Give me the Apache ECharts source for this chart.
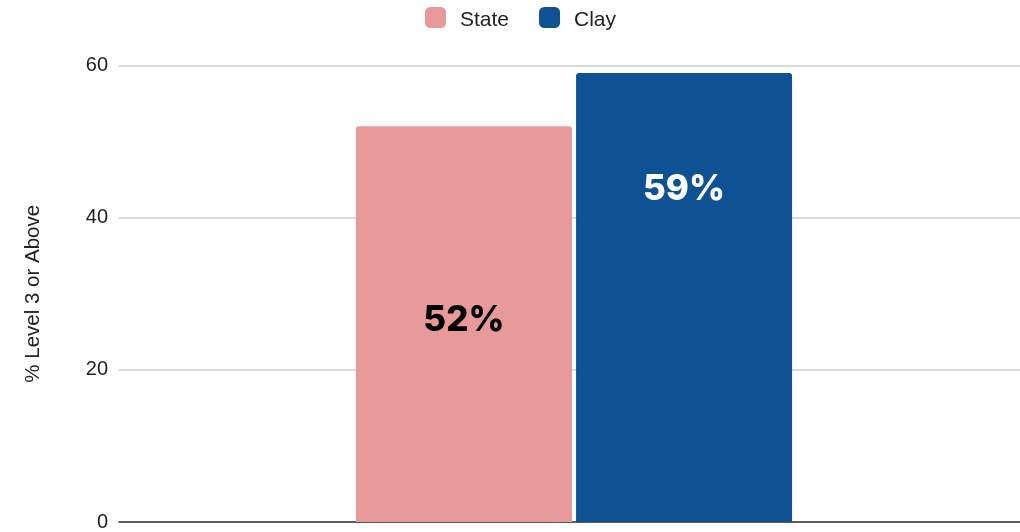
<!DOCTYPE html>
<html>
<head>
<meta charset="utf-8">
<script src="https://cdn.jsdelivr.net/npm/echarts@6/dist/echarts.min.js"></script>
<style>html,body{margin:0;padding:0;background:#fff;overflow:hidden}#c{width:1029px;height:532px}</style>
</head>
<body>
<div id="c"></div>
<script>
const categories = [''];
const seriesNames = ['State', 'Clay'];
const stateValues = [52];
const clayValues = [59];
const yTicks = [0, 20, 40, 60];
const colors = ['#e8999a', '#0e5294'];

const chart = echarts.init(document.getElementById('c'));
chart.setOption({
  animation: false,
  backgroundColor: '#ffffff',
  legend: {
    top: 2, left: 420,
    itemWidth: 21, itemHeight: 21, itemGap: 30,
    icon: 'roundRect',
    formatter: '{t|{name}}',
    textStyle: { fontFamily: 'Liberation Sans', fontSize: 21, color: '#222', padding: [0, 0, 0, 9],
      rich: { t: { fontFamily: 'Liberation Sans', fontSize: 21, color: '#222', padding: [6, 0, 0, 0] } } },
    data: seriesNames
  },
  grid: { left: 119, right: 0, top: 65.5, bottom: 10, containLabel: false },
  xAxis: {
    type: 'category', data: categories,
    axisLine: { lineStyle: { color: '#333', width: 1.5 } },
    axisTick: { show: false }, axisLabel: { show: false }
  },
  yAxis: {
    type: 'value', min: yTicks[0], max: yTicks[yTicks.length - 1], interval: 20,
    name: '% Level 3 or Above', nameLocation: 'middle', nameGap: 75, nameRotate: 90,
    nameTextStyle: { fontFamily: 'Liberation Sans', fontSize: 20.5, color: '#222' },
    axisLabel: { fontFamily: 'Liberation Sans', fontSize: 20, color: '#222', margin: 11, verticalAlign: 'middle', padding: [3, 0, 0, 0] },
    splitLine: { lineStyle: { color: '#cccccc', width: 1.5 } },
    axisLine: { show: false }, axisTick: { show: false }
  },
  series: [
    {
      name: seriesNames[0], type: 'bar', data: stateValues, barWidth: 216, barGap: '1.9%',
      itemStyle: { color: colors[0], borderRadius: [3, 3, 0, 0] },
      label: { show: true, position: 'inside', offset: [0, -4], formatter: p => p.value + '%',
        fontFamily: 'Inter', fontWeight: 800, fontSize: 35, color: '#000' }
    },
    {
      name: seriesNames[1], type: 'bar', data: clayValues, barWidth: 216,
      itemStyle: { color: colors[1], borderRadius: [3, 3, 0, 0] },
      label: { show: true, position: 'inside', offset: [0, -108], formatter: p => p.value + '%',
        fontFamily: 'Inter', fontWeight: 800, fontSize: 35, color: '#fff' }
    }
  ]
});
</script>
</body>
</html>
